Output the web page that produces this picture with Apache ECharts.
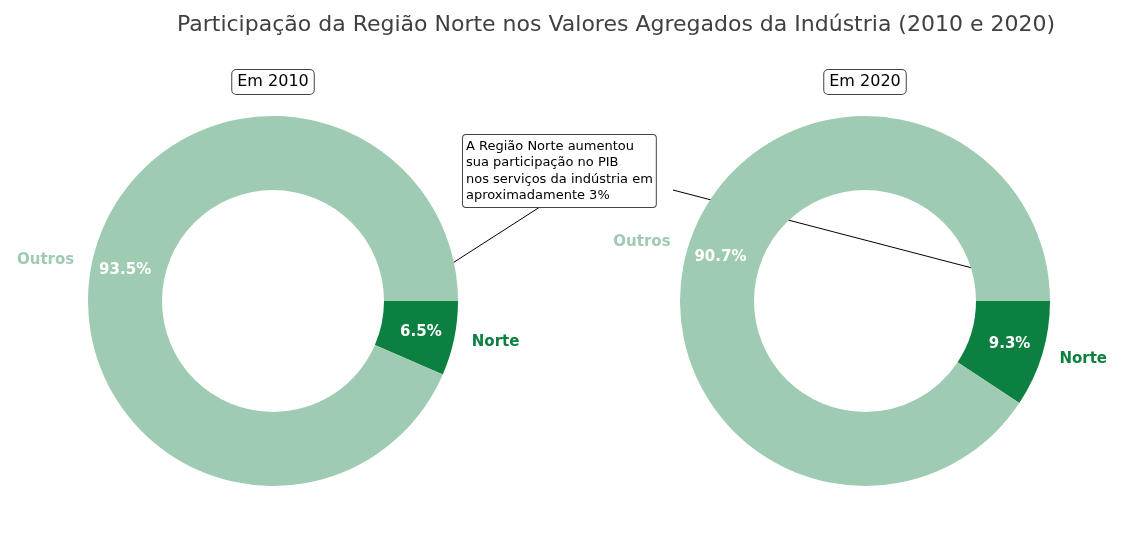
<!DOCTYPE html>
<html><head><meta charset="utf-8">
<script src="https://cdn.jsdelivr.net/npm/echarts@6/dist/echarts.min.js"></script>
<style>html,body{margin:0;padding:0;background:#fff}#c{width:1122px;height:542px}</style>
</head><body><div id="c"></div>
<script>
const categories = ['Norte', 'Outros'];
const values2010 = [6.5, 93.5];
const values2020 = [9.3, 90.7];
const years = ['Em 2010', 'Em 2020'];
const colors = ['#0b8040', '#9fcbb3'];
const F = 'DejaVu Sans';
function mk(vals, cx) {
  const data = categories.map((c, i) => ({name: c, value: vals[i], itemStyle: {color: colors[i]}}));
  return [
    {type: 'pie', center: [cx, 301], radius: [111, 185], startAngle: 0, clockwise: true, silent: true,
     data: data, label: {position: 'inside', formatter: p => p.value.toFixed(1) + '%', color: '#fff', fontWeight: 'bold', fontSize: 15, fontFamily: F},
     labelLine: {show: false}},
    {type: 'pie', center: [cx, 301], radius: [111, 185], startAngle: 0, clockwise: true, silent: true,
     data: categories.map((c, i) => ({name: c, value: vals[i], itemStyle: {color: 'transparent'},
       label: {color: colors[i]}})),
     label: {position: 'outside', formatter: '{b}', fontWeight: 'bold', fontSize: 15, fontFamily: F, distanceToLabelLine: 0},
     labelLine: {show: false, length: 18, length2: 0}}
  ];
}
const chart = echarts.init(document.getElementById('c'));
chart.setOption({
  animation: false,
  title: {text: 'Participação da Região Norte nos Valores Agregados da Indústria (2010 e 2020)', left: 611, textAlign: 'center', top: 9,
    textStyle: {fontFamily: F, fontSize: 22, fontWeight: 'normal', color: '#404040'}},
  series: [...mk(values2010, 273), ...mk(values2020, 865)],
  graphic: [
    {type: 'text', x: 273, y: 82, style: {text: years[0], align: 'center', verticalAlign: 'middle', font: '16px DejaVu Sans', fill: '#000',
      backgroundColor: '#fff', borderColor: '#444', borderWidth: 1, borderRadius: 4, padding: [4, 5]}},
    {type: 'text', x: 865, y: 82, style: {text: years[1], align: 'center', verticalAlign: 'middle', font: '16px DejaVu Sans', fill: '#000',
      backgroundColor: '#fff', borderColor: '#444', borderWidth: 1, borderRadius: 4, padding: [4, 5]}},
    {type: 'polyline', shape: {points: [[543, 205], [406, 293]]}, style: {stroke: '#000', lineWidth: 1}},
    {type: 'polyline', shape: {points: [[399, 287], [406, 293], [412, 291]]}, style: {stroke: '#000', lineWidth: 1, fill: null}},
    {type: 'polyline', shape: {points: [[673, 190], [976, 269], [982, 274], [992, 292]]}, style: {stroke: '#000', lineWidth: 1, fill: null}},
    {type: 'polyline', shape: {points: [[985, 287], [992, 292], [992, 283]]}, style: {stroke: '#000', lineWidth: 1, fill: null}},
    {type: 'text', x: 463, y: 135, z: 10, style: {text: 'A Região Norte aumentou\nsua participação no PIB\nnos serviços da indústria em\naproximadamente 3%',
      font: '13px DejaVu Sans', fill: '#000', lineHeight: 16.5, backgroundColor: '#fff', borderColor: '#444', borderWidth: 1, borderRadius: 3, padding: [3, 3]}}
  ]
});
</script></body></html>
